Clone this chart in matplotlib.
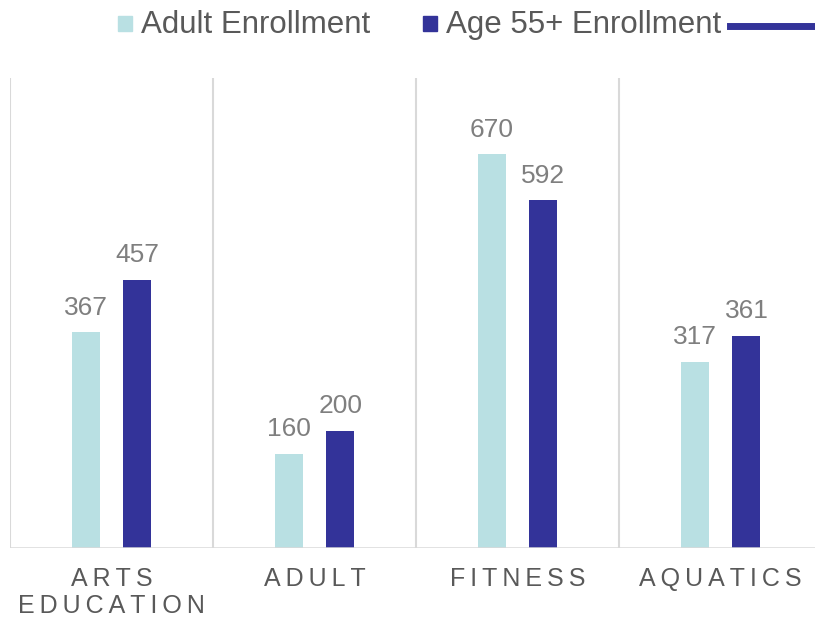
import matplotlib
matplotlib.use("Agg")
import matplotlib.pyplot as plt
import numpy as np
from matplotlib.patches import Rectangle
from matplotlib.lines import Line2D

plt.rcParams['font.family'] = ['Liberation Sans', 'DejaVu Sans']

categories = ["ARTS\nEDUCATION", "ADULT", "FITNESS", "AQUATICS"]
adult = [367, 160, 670, 317]
age55 = [457, 200, 592, 361]
series_names = ["Adult Enrollment", "Age 55+ Enrollment"]

light = "#b9e0e3"
dark = "#333399"
grid_c = "#d9d9d9"
text_c = "#595959"
label_c = "#7f7f7f"

W, H = 815, 626
fig = plt.figure(figsize=(W / 100, H / 100), dpi=100)
ax = fig.add_axes([10 / W, 78 / H, 812 / W, 470 / H])

x = np.arange(len(categories))
bw = 0.138
off = 0.128
b1 = ax.bar(x - off, adult, bw, color=light)
b2 = ax.bar(x + off, age55, bw, color=dark)

for bars, vals in ((b1, adult), (b2, age55)):
    for b, v in zip(bars, vals):
        ax.annotate(str(v), (b.get_x() + b.get_width() / 2, v),
                    xytext=(0, 9), textcoords="offset points",
                    ha="center", va="bottom", fontsize=19, color=label_c)

ax.set_xlim(-0.5, len(categories) - 0.5)
ax.set_ylim(0, 800)

# vertical separators between categories
for xv in np.arange(-0.5, len(categories), 1.0):
    ax.axvline(xv, color=grid_c, lw=1.5, zorder=0)

for s in ax.spines.values():
    s.set_visible(False)
ax.axhline(0, color=grid_c, lw=1.8, zorder=3)

# letter-spaced category labels (thin spaces between letters)
spaced = ["\n".join("\u2009".join(w) for w in c.split("\n")) for c in categories]
ax.set_xticks(x)
ax.set_xticklabels(spaced, fontsize=18, color=text_c, linespacing=1.15)
ax.tick_params(axis="x", length=0, pad=14)
ax.set_yticks([])

# legend drawn by hand
def fx(px):
    return px / W

def fy(py):
    return 1 - py / H

fig.add_artist(Rectangle((fx(118), fy(31)), 14 / W, 15 / H, color=light,
                         transform=fig.transFigure))
fig.text(fx(141), fy(33), series_names[0], fontsize=22.5, color=text_c,
         va="baseline", ha="left")
fig.add_artist(Rectangle((fx(423), fy(31)), 14 / W, 15 / H, color=dark,
                         transform=fig.transFigure))
fig.text(fx(446), fy(33), series_names[1], fontsize=22.5, color=text_c,
         va="baseline", ha="left")
fig.add_artist(Line2D([fx(730), fx(816)], [fy(26), fy(26)], color=dark, lw=5,
                      transform=fig.transFigure))

fig.savefig("out.png", dpi=100)
